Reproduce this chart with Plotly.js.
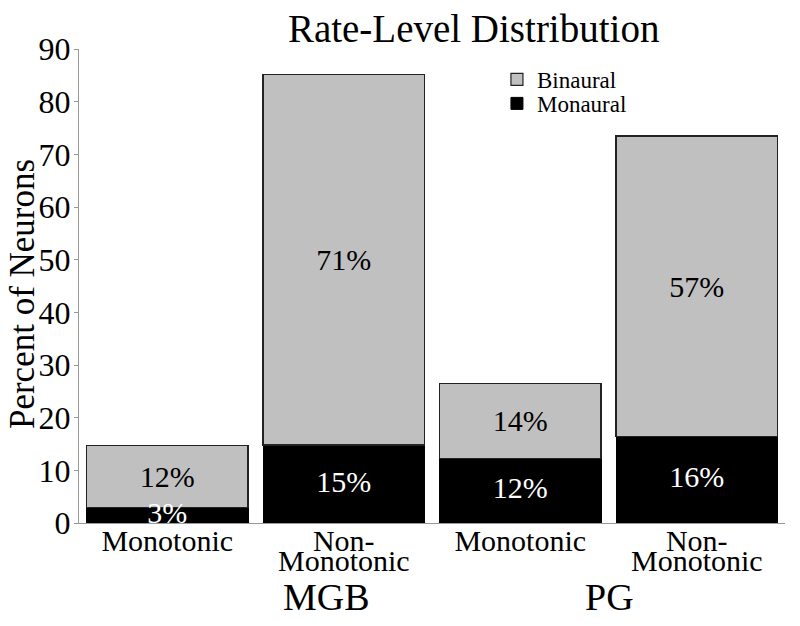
<!DOCTYPE html>
<html>
<head>
<meta charset="utf-8">
<script src="https://cdn.plot.ly/plotly-3.0.1.min.js"></script>
<style>html,body{margin:0;padding:0;background:#fff;}#chart{width:800px;height:626px;}</style>
</head>
<body>
<div id="chart"></div>
<script>
var categories = ['MGB Monotonic', 'MGB Non-Monotonic', 'PG Monotonic', 'PG Non-Monotonic'];
var tickLine1 = ['Monotonic', 'Non-', 'Monotonic', 'Non-'];
var tickLine2 = ['', 'Monotonic', '', 'Monotonic'];
var groups = ['MGB', 'PG'];
var monaural = [3.0, 14.8, 12.3, 16.4];
var binaural = [11.7, 70.4, 14.2, 57.1];
var monauralText = ['3%', '15%', '12%', '16%'];
var binauralText = ['12%', '71%', '14%', '57%'];

var FONT = 'Liberation Serif, Times New Roman, serif';

var monMid = monaural.map(function (v) { return v / 2; });

var traces = [
  {
    type: 'bar', name: 'Monaural', x: categories, y: monaural, legend: 'legend2',
    marker: {color: '#000000', line: {color: '#000000', width: 1}},
    hoverinfo: 'skip'
  },
  {
    type: 'bar', name: 'Binaural', x: categories, y: binaural, legend: 'legend',
    text: binauralText, textposition: 'inside', insidetextanchor: 'middle',
    textangle: 0, constraintext: 'none',
    textfont: {family: FONT, size: 30, color: '#000000'},
    marker: {color: '#c0c0c0', line: {color: '#222222', width: 1.2}},
    hoverinfo: 'skip'
  },
  {
    type: 'scatter', mode: 'text', x: categories, y: monMid, text: monauralText,
    textposition: 'middle center', showlegend: false, cliponaxis: false,
    textfont: {family: FONT, size: 30, color: '#ffffff'},
    hoverinfo: 'skip'
  }
];

var annotations = [];
for (var i = 0; i < categories.length; i++) {
  if (tickLine2[i]) {
    annotations.push({
      x: categories[i], xref: 'x', y: 0, yref: 'paper', yanchor: 'top',
      yshift: -19, text: tickLine2[i], showarrow: false,
      font: {family: FONT, size: 30, color: '#000'}
    });
  }
}
var groupX = [0.2856, 0.7885];
for (var g = 0; g < groups.length; g++) {
  annotations.push({
    x: groupX[g], xref: 'paper', y: 0, yref: 'paper', yanchor: 'top',
    yshift: -51, text: groups[g], showarrow: false,
    font: {family: FONT, size: 38, color: '#000'}
  });
}
annotations.push({
  x: -0.080, xref: 'paper', xanchor: 'center', y: 0.482, yref: 'paper', yanchor: 'middle',
  text: 'Percent of Neurons', textangle: -90, showarrow: false, borderpad: 0,
  font: {family: FONT, size: 35, color: '#000'}
});

var legendCommon = {
  xanchor: 'left', yanchor: 'top', bgcolor: 'rgba(0,0,0,0)',
  font: {family: FONT, size: 23, color: '#000'}, itemwidth: 30
};

var layout = {
  width: 800, height: 626,
  margin: {l: 79, r: 15, t: 49, b: 103},
  paper_bgcolor: '#ffffff', plot_bgcolor: '#ffffff',
  barmode: 'stack', bargap: 0.085,
  font: {family: FONT, color: '#000'},
  title: {
    text: 'Rate-Level Distribution',
    font: {family: FONT, size: 39, color: '#000'},
    x: 0.559, xref: 'paper', xanchor: 'center',
    y: 0.955, yref: 'container', yanchor: 'middle'
  },
  showlegend: true,
  legend: Object.assign({x: 0.592, y: 0.981}, legendCommon),
  legend2: Object.assign({x: 0.592, y: 0.9305}, legendCommon),
  xaxis: {
    type: 'category', tickmode: 'array', tickvals: categories, ticktext: tickLine1,
    tickfont: {family: FONT, size: 30, color: '#000'},
    ticklabelstandoff: -9,
    showline: true, linecolor: '#999999', linewidth: 1,
    ticks: '', showgrid: false, zeroline: false, fixedrange: true
  },
  yaxis: {
    range: [0, 90], tickmode: 'linear', tick0: 0, dtick: 10,
    tickfont: {family: FONT, size: 32, color: '#000'},
    ticklabelstandoff: -3,
    showline: true, linecolor: '#999999', linewidth: 1,
    ticks: 'outside', ticklen: 4, tickcolor: '#999999',
    showgrid: false, zeroline: false, fixedrange: true
  },
  annotations: annotations
};

Plotly.newPlot('chart', traces, layout, {staticPlot: true, displayModeBar: false});
</script>
</body>
</html>
